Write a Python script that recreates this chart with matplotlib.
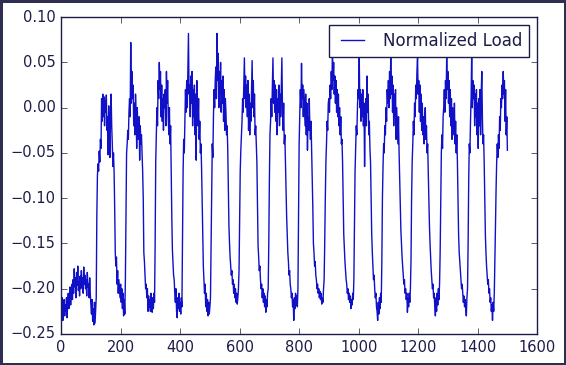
import numpy as np
import matplotlib
matplotlib.use('Agg')
import matplotlib.pyplot as plt

# load readings, one every 2 samples, in blocks of 100 samples
block0 = [-0.215, -0.228, -0.210, -0.235, -0.222, -0.212, -0.230, -0.218, -0.225, -0.210,
          -0.232, -0.215, -0.205, -0.222, -0.212, -0.198, -0.218, -0.205, -0.195, -0.212,
          -0.190, -0.205, -0.178, -0.198, -0.188, -0.210, -0.182, -0.196, -0.175, -0.202,
          -0.192, -0.208, -0.186, -0.200, -0.180, -0.198, -0.188, -0.205, -0.176, -0.195,
          -0.185, -0.200, -0.190, -0.208, -0.182, -0.198, -0.195, -0.210, -0.188, -0.205]
block1 = [-0.218, -0.228, -0.212, -0.236, -0.222, -0.240, -0.215, -0.238, -0.225, -0.210,
          -0.120, -0.075, -0.062, -0.070, -0.048, -0.060, -0.035, -0.045, 0.010, -0.015,
          0.015, -0.010, 0.012, -0.020, 0.008, -0.005, 0.014, -0.025, -0.010, -0.052,
          0.002, -0.030, -0.055, -0.010, 0.015, -0.020, -0.040, -0.065, -0.050, -0.070,
          -0.110, -0.160, -0.175, -0.165, -0.195, -0.180, -0.205, -0.190, -0.200, -0.210]
block2 = [-0.195, -0.215, -0.200, -0.222, -0.205, -0.230, -0.212, -0.228, -0.190, -0.120,
          -0.050, -0.040, -0.025, -0.035, -0.005, 0.010, -0.010, 0.072, 0.005, 0.040,
          0.010, 0.025, -0.020, 0.005, -0.030, 0.015, -0.005, -0.045, 0.000, -0.025,
          -0.035, -0.010, -0.058, -0.020, -0.040, -0.030, -0.050, -0.070, -0.100, -0.160,
          -0.170, -0.185, -0.200, -0.195, -0.210, -0.200, -0.225, -0.208, -0.220, -0.212]
block3 = [-0.225, -0.205, -0.218, -0.226, -0.210, -0.222, -0.205, -0.215, -0.150, -0.060,
          -0.030, 0.000, -0.020, 0.030, 0.010, 0.050, 0.020, 0.040, -0.010, 0.025,
          -0.015, 0.010, -0.025, 0.015, 0.000, 0.020, -0.020, 0.040, 0.005, 0.030,
          -0.010, -0.030, 0.000, -0.040, -0.020, -0.070, -0.120, -0.157, -0.170, -0.185,
          -0.190, -0.205, -0.215, -0.200, -0.225, -0.232, -0.210, -0.222, -0.205, -0.225]
block4 = [-0.215, -0.228, -0.210, -0.220, -0.150, -0.070, -0.035, -0.050, -0.015, 0.020,
          -0.005, 0.030, 0.000, 0.040, 0.082, 0.015, 0.025, -0.010, 0.035, 0.005,
          0.040, -0.020, 0.020, -0.010, 0.025, -0.030, 0.015, -0.058, 0.030, 0.000,
          -0.020, 0.010, -0.035, -0.015, -0.050, -0.040, -0.065, -0.100, -0.140, -0.175,
          -0.190, -0.205, -0.195, -0.220, -0.205, -0.225, -0.212, -0.230, -0.215, -0.228]
block5 = [-0.220, -0.210, -0.150, -0.080, -0.040, -0.055, -0.010, 0.020, 0.000, 0.030,
          0.045, 0.010, 0.082, 0.030, 0.060, 0.000, 0.040, 0.015, 0.050, -0.005,
          0.030, 0.005, 0.035, -0.015, 0.020, -0.025, 0.010, -0.005, -0.030, -0.020,
          -0.045, -0.090, -0.130, -0.150, -0.165, -0.175, -0.185, -0.180, -0.195, -0.190,
          -0.205, -0.195, -0.210, -0.200, -0.215, -0.205, -0.217, -0.210, -0.200, -0.180]
block6 = [-0.120, -0.070, -0.047, -0.030, -0.015, 0.010, -0.005, 0.025, 0.055, 0.010,
          0.035, 0.000, 0.025, -0.010, 0.030, -0.025, 0.015, -0.030, 0.005, -0.015,
          0.020, 0.052, 0.000, 0.030, -0.010, 0.015, -0.030, -0.020, -0.040, -0.060,
          -0.110, -0.153, -0.165, -0.180, -0.175, -0.190, -0.200, -0.195, -0.210, -0.200,
          -0.215, -0.205, -0.220, -0.208, -0.226, -0.212, -0.220, -0.205, -0.200, -0.150]
block7 = [-0.080, -0.030, -0.015, 0.010, -0.010, 0.020, 0.055, 0.005, 0.030, -0.005,
          0.025, -0.015, 0.020, -0.030, 0.010, -0.005, 0.025, -0.020, 0.015, -0.010,
          0.020, 0.055, 0.000, -0.025, 0.005, -0.040, -0.030, -0.060, -0.090, -0.120,
          -0.140, -0.160, -0.170, -0.185, -0.180, -0.195, -0.200, -0.210, -0.205, -0.220,
          -0.212, -0.235, -0.210, -0.222, -0.205, -0.218, -0.208, -0.220, -0.200, -0.120]
block8 = [-0.040, -0.010, 0.020, 0.000, 0.049, 0.010, 0.025, -0.010, 0.020, 0.000,
          -0.020, 0.015, -0.030, 0.005, -0.047, -0.010, -0.025, 0.010, -0.020, -0.035,
          -0.015, -0.045, -0.070, -0.110, -0.150, -0.160, -0.175, -0.170, -0.185, -0.190,
          -0.200, -0.195, -0.205, -0.200, -0.210, -0.203, -0.212, -0.205, -0.217, -0.210,
          -0.215, -0.200, -0.190, -0.150, -0.100, -0.060, -0.040, -0.015, -0.025, 0.005]
block9 = [0.010, -0.005, 0.025, 0.010, 0.040, 0.020, 0.065, 0.030, 0.050, 0.015,
          0.035, 0.005, 0.030, -0.005, 0.020, -0.010, 0.015, -0.020, 0.000, -0.030,
          -0.010, -0.040, -0.035, -0.060, -0.100, -0.140, -0.155, -0.170, -0.180, -0.190,
          -0.195, -0.205, -0.200, -0.212, -0.205, -0.215, -0.208, -0.222, -0.212, -0.218,
          -0.205, -0.212, -0.190, -0.130, -0.070, -0.044, -0.020, -0.030, 0.000, 0.020]
block10 = [0.010, 0.056, 0.000, 0.020, -0.015, 0.015, -0.010, 0.020, -0.020, 0.005,
           -0.065, -0.010, 0.010, -0.020, 0.035, -0.005, 0.015, -0.030, -0.015, -0.045,
           -0.060, -0.100, -0.140, -0.160, -0.175, -0.190, -0.185, -0.200, -0.210, -0.205,
           -0.220, -0.225, -0.235, -0.215, -0.228, -0.210, -0.222, -0.205, -0.215, -0.170,
           -0.100, -0.065, -0.040, -0.050, -0.020, -0.030, 0.000, -0.015, 0.020, 0.005]
block11 = [0.030, 0.000, 0.040, 0.010, 0.055, 0.015, 0.035, -0.005, 0.025, -0.020,
           0.015, -0.010, 0.020, -0.035, 0.000, -0.020, -0.040, -0.010, -0.050, -0.080,
           -0.110, -0.135, -0.150, -0.165, -0.175, -0.185, -0.195, -0.190, -0.205, -0.200,
           -0.212, -0.205, -0.226, -0.210, -0.220, -0.205, -0.215, -0.200, -0.170, -0.100,
           -0.060, -0.040, -0.015, -0.030, 0.005, -0.010, 0.025, 0.010, 0.040, 0.055]
block12 = [0.015, 0.030, -0.005, 0.025, -0.015, 0.015, -0.025, 0.005, -0.030, -0.010,
           -0.040, -0.015, 0.000, -0.035, -0.020, -0.050, -0.040, -0.070, -0.100, -0.130,
           -0.150, -0.165, -0.180, -0.190, -0.200, -0.195, -0.210, -0.205, -0.220, -0.230,
           -0.210, -0.225, -0.205, -0.218, -0.200, -0.212, -0.195, -0.160, -0.100, -0.050,
           -0.030, -0.045, -0.010, 0.000, 0.020, -0.005, 0.030, 0.010, 0.055, 0.020]
block13 = [0.040, 0.005, 0.030, -0.010, 0.020, -0.020, 0.010, -0.035, 0.000, -0.015,
           -0.030, 0.005, -0.040, -0.015, -0.050, -0.030, -0.060, -0.100, -0.140, -0.160,
           -0.170, -0.180, -0.190, -0.200, -0.195, -0.205, -0.215, -0.208, -0.220, -0.212,
           -0.222, -0.230, -0.210, -0.200, -0.150, -0.080, -0.040, -0.050, -0.015, 0.010,
           0.058, 0.000, 0.030, 0.010, 0.025, -0.020, 0.015, -0.010, 0.020, -0.030]
block14 = [0.005, -0.045, 0.010, -0.020, 0.020, -0.030, 0.015, 0.040, -0.010, -0.040,
           -0.030, -0.060, -0.100, -0.140, -0.160, -0.175, -0.185, -0.195, -0.190, -0.205,
           -0.200, -0.215, -0.210, -0.225, -0.218, -0.235, -0.215, -0.225, -0.205, -0.170,
           -0.130, -0.090, -0.060, -0.040, -0.055, -0.030, -0.045, -0.010, -0.025, 0.010,
           0.000, 0.025, 0.010, 0.040, 0.015, 0.030, -0.015, 0.020, -0.030, -0.010, -0.047]

step = 2
load = np.concatenate([block0, block1, block2, block3, block4, block5, block6, block7,
                       block8, block9, block10, block11, block12, block13, block14])
x = np.arange(len(load)) * step

plt.style.use('classic')
ink = '#1c1c48'
plt.rcParams['font.size'] = 10.5
plt.rcParams['text.color'] = ink
plt.rcParams['xtick.color'] = ink
plt.rcParams['ytick.color'] = ink
plt.rcParams['axes.edgecolor'] = ink

fig = plt.figure(figsize=(5.66, 3.65), dpi=100, facecolor='white',
                 edgecolor='#2e2e50', linewidth=2.5)
ax = fig.add_axes([0.108, 0.085, 0.841, 0.868])
ax.plot(x, load, color='#1010c8', lw=1.0, label='Normalized Load')
ax.set_xlim(0, 1600)
ax.set_ylim(-0.25, 0.10)
ax.legend(loc='upper right', fontsize=12)

fig.savefig('out.png', dpi=100, facecolor='white', edgecolor=fig.get_edgecolor())
